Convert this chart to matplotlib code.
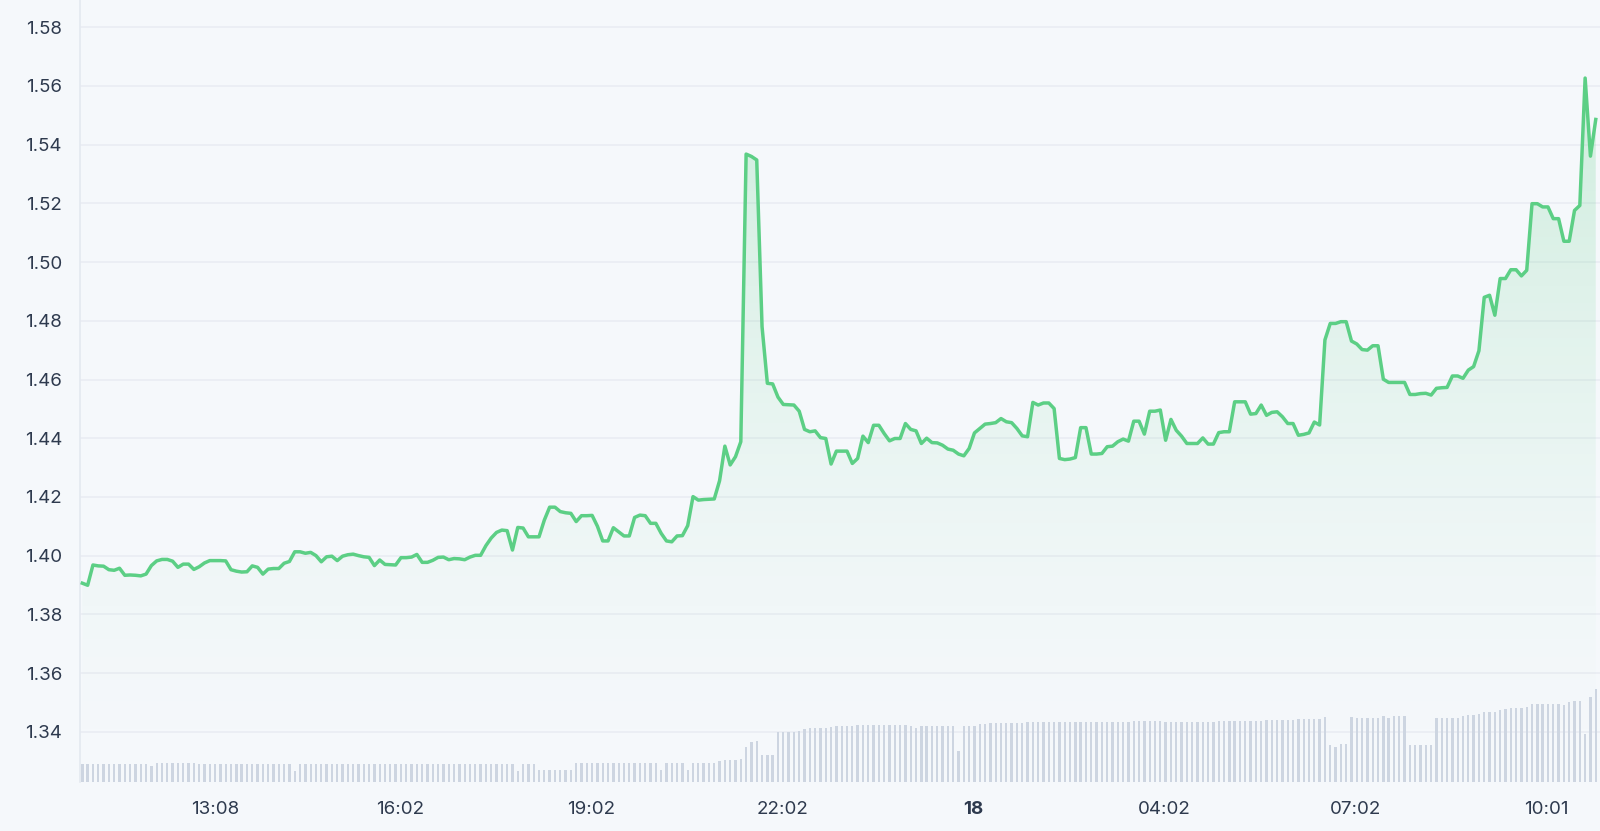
import numpy as np
import matplotlib
matplotlib.use("Agg")
import matplotlib.pyplot as plt
from matplotlib.colors import LinearSegmentedColormap

plt.rcParams['font.family'] = ['Inter', 'DejaVu Sans']

# ---------------- data ----------------
# 5-minute samples starting 11:03 (minutes from start)
step_min = 5
price = [
    1.3906, 1.3899, 1.3968, 1.3965, 1.3964, 1.3952, 1.3950, 1.3957, 1.3933, 1.3934,
    1.3933, 1.3931, 1.3937, 1.3966, 1.3982, 1.3987, 1.3987, 1.3981, 1.3960, 1.3971,
    1.3971, 1.3953, 1.3962, 1.3975, 1.3983, 1.3983, 1.3983, 1.3982, 1.3952, 1.3947,
    1.3944, 1.3945, 1.3965, 1.3960, 1.3937, 1.3954, 1.3956, 1.3956, 1.3974, 1.3980,
    1.4013, 1.4013, 1.4008, 1.4011, 1.4000, 1.3979, 1.3996, 1.3998, 1.3983, 1.3998,
    1.4003, 1.4005, 1.4000, 1.3996, 1.3994, 1.3966, 1.3985, 1.3970, 1.3969, 1.3968,
    1.3993, 1.3993, 1.3995, 1.4004, 1.3977, 1.3977, 1.3984, 1.3994, 1.3995, 1.3986,
    1.3990, 1.3989, 1.3986, 1.3995, 1.4001, 1.4001, 1.4034, 1.4060, 1.4079, 1.4087,
    1.4085, 1.4019, 1.4096, 1.4094, 1.4064, 1.4064, 1.4064, 1.4121, 1.4165, 1.4165,
    1.4150, 1.4146, 1.4144, 1.4116, 1.4136, 1.4136, 1.4137, 1.4100, 1.4050, 1.4050,
    1.4095, 1.4081, 1.4067, 1.4067, 1.4130, 1.4138, 1.4136, 1.4110, 1.4110, 1.4076,
    1.4050, 1.4047, 1.4067, 1.4068, 1.4102, 1.4201, 1.4189, 1.4191, 1.4192, 1.4193,
    1.4255, 1.4373, 1.4309, 1.4337, 1.4388, 1.5368, 1.5360, 1.5348, 1.4780, 1.4587,
    1.4585, 1.4540, 1.4515, 1.4514, 1.4513, 1.4492, 1.4430, 1.4422, 1.4425, 1.4402,
    1.4399, 1.4312, 1.4356, 1.4356, 1.4356, 1.4314, 1.4331, 1.4407, 1.4385, 1.4444,
    1.4444, 1.4416, 1.4391, 1.4399, 1.4399, 1.4450, 1.4430, 1.4425, 1.4382, 1.4400,
    1.4385, 1.4384, 1.4376, 1.4363, 1.4359, 1.4346, 1.4340, 1.4365, 1.4418, 1.4433,
    1.4448, 1.4450, 1.4453, 1.4467, 1.4456, 1.4453, 1.4433, 1.4408, 1.4405, 1.4522,
    1.4513, 1.4520, 1.4520, 1.4501, 1.4331, 1.4327, 1.4329, 1.4334, 1.4436, 1.4436,
    1.4346, 1.4346, 1.4348, 1.4371, 1.4373, 1.4388, 1.4397, 1.4390, 1.4458, 1.4458,
    1.4414, 1.4492, 1.4492, 1.4496, 1.4393, 1.4464, 1.4427, 1.4407, 1.4382, 1.4382,
    1.4382, 1.4401, 1.4380, 1.4380, 1.4419, 1.4422, 1.4422, 1.4524, 1.4524, 1.4524,
    1.4482, 1.4484, 1.4513, 1.4478, 1.4488, 1.4490, 1.4473, 1.4450, 1.4450, 1.4410,
    1.4413, 1.4418, 1.4455, 1.4445, 1.4735, 1.4791, 1.4791, 1.4797, 1.4797, 1.4731,
    1.4721, 1.4702, 1.4700, 1.4715, 1.4715, 1.4601, 1.4590, 1.4590, 1.4590, 1.4590,
    1.4549, 1.4549, 1.4552, 1.4553, 1.4547, 1.4570, 1.4572, 1.4573, 1.4612, 1.4612,
    1.4604, 1.4632, 1.4644, 1.4698, 1.4880, 1.4887, 1.4819, 1.4944, 1.4944, 1.4974,
    1.4974, 1.4953, 1.4972, 1.5199, 1.5199, 1.5188, 1.5188, 1.5148, 1.5148, 1.5071,
    1.5071, 1.5176, 1.5193, 1.5627, 1.5361, 1.5486,
]

volume = (
    [17.7] * 13 + [15.5] + [19.0] * 8 + [17.7] * 18 + [11.0] + [17.7] * 41 + [11.0]
    + [17.7] * 3 + [12.0] * 7 + [18.4] * 16 + [11.7] + [18.4] * 4 + [11.7] + [18.4] * 5
    + [20.5] + [21.7] * 3 + [22.3] + [35.0, 40.0, 40.7] + [26.7] * 3 + [50.0] * 4
    + [51.0, 52.7] + [53.7] * 4 + [55.0] + [55.7] * 4 + [56.7] * 10 + [55.7, 53.4]
    + [55.7] * 7 + [30.7] + [55.7] * 3 + [57.3] * 2 + [58.4] * 7 + [59.4] * 20
    + [60.7] * 6 + [59.4] * 10 + [60.7] * 9 + [61.4] * 6 + [62.4] * 5 + [65.0]
    + [36.7, 34.4, 37.4, 37.4] + [65.0] + [63.4] * 5 + [66.0, 63.4] + [66.0] * 3
    + [36.4] * 5 + [64.0] * 5 + [65.7] + [66.7] * 2 + [67.7] + [69.7] * 3
    + [72.0, 72.4] + [73.7] * 3 + [74.4] + [78.0] * 6 + [77.0, 79.7] + [80.7] * 2
    + [47.7, 84.4, 92.7]
)

tick_minutes = [125, 299, 479, 659, 839, 1019, 1199, 1378]
tick_labels = ["13:08", "16:02", "19:02", "22:02", "18", "04:02", "07:02", "10:01"]
y_ticks = [1.34, 1.36, 1.38, 1.40, 1.42, 1.44, 1.46, 1.48, 1.50, 1.52, 1.54, 1.56, 1.58]

# ---------------- figure ----------------
n = min(len(price), len(volume))
price = np.array(price[:n])
volume = np.array(volume[:n])
x = np.arange(n) * step_min

BG = "#f5f8fb"
GREEN = "#5ccf85"
BAR = "#cdd5e1"
GRID = "#e9edf3"
TXT = "#2e3a4e"

fig = plt.figure(figsize=(16, 8.31), dpi=100, facecolor=BG)
ax = fig.add_axes([80 / 1600, 49.3 / 831, 1 - 80 / 1600, 1 - 49.3 / 831])
ax.set_facecolor(BG)

ymin, ymax = 1.32297, 1.5893
xmin, xmax = -2.2, 1429.0
ax.set_xlim(xmin, xmax)
ax.set_ylim(ymin, ymax)

# volume bars (occupy bottom area, scale: full axis height = 781.7 units)
VOL_AXIS_MAX = 781.7
ax.bar(x, volume / VOL_AXIS_MAX, width=2.2, bottom=0, color=BAR,
       transform=ax.get_xaxis_transform(), zorder=2.5, linewidth=0)

# gradient fill under the line (fades out toward the bottom)
poly = ax.fill_between(x, price, ymin, color="none", linewidth=0)
t = np.linspace(0, 1, 256)
alphas = 0.30 * t ** 1.6
rgba = np.zeros((256, 1, 4))
rgba[:, 0, 0] = 0.36
rgba[:, 0, 1] = 0.81
rgba[:, 0, 2] = 0.52
rgba[:, 0, 3] = alphas
im = ax.imshow(rgba, extent=[xmin, xmax, ymin, ymax], origin="lower",
               aspect="auto", zorder=2, interpolation="bilinear")
im.set_clip_path(poly.get_paths()[0], transform=ax.transData)

ax.plot(x, price, color=GREEN, lw=2.5, zorder=3, solid_joinstyle="round")

# axes styling
ax.set_yticks(y_ticks)
ax.set_yticklabels([f"{v:.2f}" for v in y_ticks])
ax.set_xticks(tick_minutes)
ax.set_xticklabels(tick_labels)
ax.grid(axis="y", color=GRID, lw=1.2)
ax.grid(axis="x", visible=False)
ax.set_axisbelow(True)
for s in ["top", "right", "bottom"]:
    ax.spines[s].set_visible(False)
ax.spines["left"].set_color("#e4e9f0")
ax.spines["left"].set_linewidth(1.2)
ax.tick_params(axis="both", length=0, labelsize=13.5, colors=TXT)
ax.tick_params(axis="y", pad=13)
ax.tick_params(axis="x", pad=14)
for lbl in ax.get_xticklabels():
    if lbl.get_text() == "18":
        lbl.set_fontweight("bold")

fig.savefig("out.png", dpi=100, facecolor=BG)
